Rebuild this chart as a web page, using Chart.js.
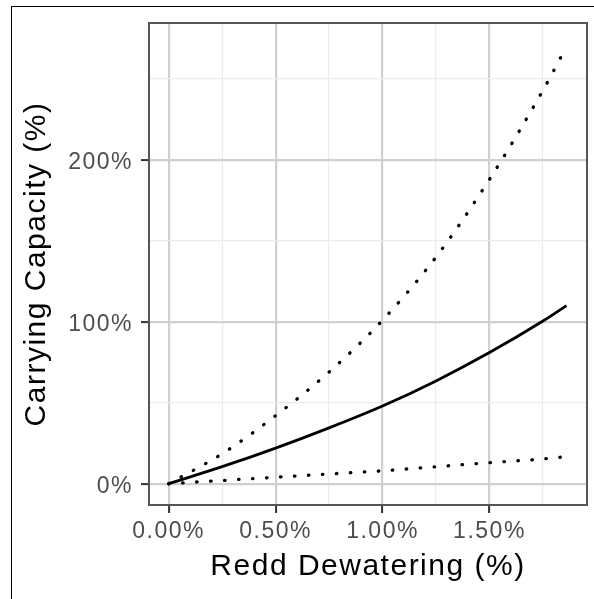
<!DOCTYPE html>
<html>
<head>
<meta charset="utf-8">
<script src="https://cdn.jsdelivr.net/npm/chart.js@4"></script>
<style>
  html, body { margin: 0; padding: 0; background: #fff; overflow: hidden; }
  #wrap { position: relative; width: 594px; height: 599px; }
  #frame { position: absolute; left: 11px; top: 6px; width: 800px; height: 800px;
           border-left: 1.4px solid #000; border-top: 1.4px solid #000; }
  canvas { position: absolute; left: 0; top: 0; }
</style>
</head>
<body>
<div id="wrap">
  <div id="frame"></div>
  <canvas id="c" width="594" height="599" style="width:594px;height:599px"></canvas>
</div>
<script>
// ---- data ----
const dewatering   = [0, 0.25, 0.5, 0.75, 1.0, 1.25, 1.5, 1.75, 1.86];   // Redd Dewatering (%)
const capacityMid  = [0, 10.5, 22, 34.5, 48, 63.5, 81, 100.5, 110];    // solid line
const capacityHigh = [0, 18.5, 42, 69, 101, 140, 188, 243, 270];       // upper dotted
const capacityLow  = [0, 2, 4, 6, 8, 10.5, 13, 15.3, 16.7];            // lower dotted

const xMajorTicks = [0, 0.5, 1.0, 1.5];
const xMinorTicks = [0.25, 0.75, 1.25, 1.75];
const xTickLabels = ['0.00%', '0.50%', '1.00%', '1.50%'];
const yMajorTicks = [0, 100, 200];
const yMinorTicks = [50, 150, 250];
const yTickLabels = ['0%', '100%', '200%'];

const xTitle = 'Redd Dewatering (%)';
const yTitle = 'Carrying Capacity (%)';

const pts = ys => dewatering.map((x, i) => ({x: x, y: ys[i]}));

const FONT = "'Liberation Sans', Arial, sans-serif";
const MAJOR_GRID = '#d0d0d0', MINOR_GRID = '#ebebeb';

function isMajor(list, v) { return list.some(m => Math.abs(m - v) < 1e-9); }

const spacingPlugin = {
  id: 'spacing',
  beforeDraw(chart) { chart.ctx.letterSpacing = '1.5px'; }
};
const borderPlugin = {
  id: 'panelBorder',
  afterDraw(chart) {
    const a = chart.chartArea, ctx = chart.ctx;
    ctx.save();
    ctx.strokeStyle = '#555';
    ctx.lineWidth = 2;
    ctx.strokeRect(a.left, a.top, a.right - a.left, a.bottom - a.top);
    ctx.restore();
  }
};

const dotted = {
  borderColor: '#000', borderWidth: 3.3, borderDash: [0.5, 13.5], borderCapStyle: 'round',
  pointRadius: 0, fill: false, cubicInterpolationMode: 'monotone'
};

new Chart(document.getElementById('c'), {
  type: 'line',
  data: {
    datasets: [
      Object.assign({label: 'high', data: pts(capacityHigh)}, dotted),
      Object.assign({label: 'low', data: pts(capacityLow)}, dotted),
      {label: 'mid', data: pts(capacityMid), borderColor: '#000', borderWidth: 2.8,
       borderCapStyle: 'butt', borderJoinStyle: 'round',
       pointRadius: 0, fill: false, cubicInterpolationMode: 'monotone'}
    ]
  },
  options: {
    responsive: false,
    animation: false,
    layout: { padding: { left: 0, top: 23, right: 7, bottom: 0 } },
    plugins: { legend: { display: false }, tooltip: { enabled: false } },
    scales: {
      x: {
        type: 'linear', min: -0.092, max: 1.956,
        afterBuildTicks(s) { s.ticks = xMajorTicks.concat(xMinorTicks).sort((a,b)=>a-b).map(v => ({value: v})); },
        afterFit(s) { s.height = 94; },
        border: { display: false },
        grid: {
          color: c => isMajor(xMajorTicks, c.tick.value) ? MAJOR_GRID : MINOR_GRID,
          lineWidth: c => isMajor(xMajorTicks, c.tick.value) ? 2.2 : 1.2,
          tickColor: c => isMajor(xMajorTicks, c.tick.value) ? '#333' : 'rgba(0,0,0,0)',
          tickWidth: 2, tickLength: 8
        },
        ticks: {
          autoSkip: false, maxRotation: 0, padding: 5,
          color: '#4d4d4d', font: { family: FONT, size: 23 },
          callback: v => { const i = xMajorTicks.findIndex(m => Math.abs(m - v) < 1e-9); return i >= 0 ? xTickLabels[i] : ''; }
        },
        title: { display: true, text: xTitle, color: '#000', font: { family: FONT, size: 30 },
                 padding: { top: 0, bottom: 14.5 } }
      },
      y: {
        type: 'linear', min: -13.16, max: 284.6,
        afterBuildTicks(s) { s.ticks = yMajorTicks.concat(yMinorTicks).sort((a,b)=>a-b).map(v => ({value: v})); },
        afterFit(s) { s.width = 149; },
        border: { display: false },
        grid: {
          color: c => isMajor(yMajorTicks, c.tick.value) ? MAJOR_GRID : MINOR_GRID,
          lineWidth: c => isMajor(yMajorTicks, c.tick.value) ? 2.2 : 1.2,
          tickColor: c => isMajor(yMajorTicks, c.tick.value) ? '#333' : 'rgba(0,0,0,0)',
          tickWidth: 2, tickLength: 8
        },
        ticks: {
          autoSkip: false, padding: 8, labelOffset: 2.5,
          color: '#4d4d4d', font: { family: FONT, size: 23 },
          callback: v => { const i = yMajorTicks.findIndex(m => Math.abs(m - v) < 1e-9); return i >= 0 ? yTickLabels[i] : ''; }
        },
        title: { display: true, text: yTitle, color: '#000', font: { family: FONT, size: 30 },
                 padding: { top: 18.6, bottom: 0 } }
      }
    }
  },
  plugins: [spacingPlugin, borderPlugin]
});
</script>
</body>
</html>
